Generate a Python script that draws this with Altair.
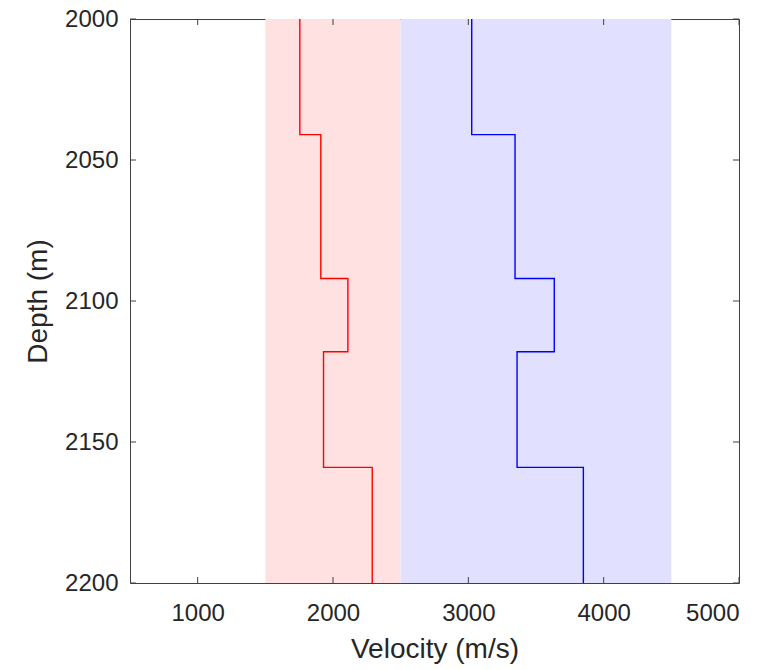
import altair as alt
import pandas as pd

# ---- data ----
depth_top = [2000, 2041, 2092, 2118, 2159]
depth_bottom = [2041, 2092, 2118, 2159, 2200]
vs = [1755, 1910, 2110, 1930, 2290]
vp = [3025, 3345, 3635, 3360, 3850]

band_name = ["vs", "vp"]
band_lo = [1500, 2500]
band_hi = [2500, 4500]
band_color = ["#ffe1e1", "#e1e1ff"]

x_ticks = [1000, 2000, 3000, 4000, 5000]
y_ticks = [2000, 2050, 2100, 2150, 2200]

W, H = 609, 564
FONT = "Liberation Sans"
TXT = "#262626"

xscale = alt.Scale(domain=[500, 5000], nice=False, zero=False)
yscale = alt.Scale(domain=[2000, 2200], reverse=True, nice=False, zero=False)

rows = []
for name, vals in (("vs", vs), ("vp", vp)):
    k = 0
    for v, t, b in zip(vals, depth_top, depth_bottom):
        rows.append({"series": name, "v": v, "d": t, "o": k}); k += 1
        rows.append({"series": name, "v": v, "d": b, "o": k}); k += 1
lines_df = pd.DataFrame(rows)

bands_df = pd.DataFrame({"series": band_name, "lo": band_lo, "hi": band_hi,
                         "d0": [2000, 2000], "d1": [2200, 2200]})

bands = alt.Chart(bands_df).mark_rect().encode(
    x=alt.X("lo:Q", scale=xscale,
            axis=alt.Axis(values=x_ticks, ticks=False, domain=False, grid=False,
                          labelFontSize=24, labelPadding=18, labelColor=TXT,
                          labelFont=FONT, title="Velocity (m/s)", titleFont=FONT,
                          titleFontSize=28, titleFontWeight="normal", titleColor=TXT,
                          titlePadding=10, format="d")),
    x2="hi:Q",
    y=alt.Y("d0:Q", scale=yscale,
            axis=alt.Axis(values=y_ticks, ticks=False, domain=False, grid=False,
                          labelFontSize=24, labelPadding=12, labelColor=TXT,
                          labelFont=FONT, title="Depth (m)", titleFont=FONT,
                          titleFontSize=28, titleFontWeight="normal", titleColor=TXT,
                          titlePadding=12, format="d")),
    y2="d1:Q",
    color=alt.Color("series:N", scale=alt.Scale(domain=band_name, range=band_color), legend=None),
)

lines = alt.Chart(lines_df).mark_line(strokeWidth=1.4).encode(
    x=alt.X("v:Q", scale=xscale),
    y=alt.Y("d:Q", scale=yscale),
    order="o:Q",
    detail="series:N",
    color=alt.Color("series:N", scale=alt.Scale(domain=["vs", "vp"], range=["#ff0000", "#0000ff"]), legend=None),
)

xt_df = pd.DataFrame({"t": x_ticks})
yt_df = pd.DataFrame({"t": y_ticks})
TICK = 6
tick_color = "#404040"
xt_bottom = alt.Chart(xt_df).mark_rule(color=tick_color, strokeWidth=1).encode(
    x=alt.X("t:Q", scale=xscale), y=alt.value(H), y2=alt.value(H - TICK))
xt_top = alt.Chart(xt_df).mark_rule(color=tick_color, strokeWidth=1).encode(
    x=alt.X("t:Q", scale=xscale), y=alt.value(0), y2=alt.value(TICK))
yt_left = alt.Chart(yt_df).mark_rule(color=tick_color, strokeWidth=1).encode(
    y=alt.Y("t:Q", scale=yscale), x=alt.value(0), x2=alt.value(TICK))
yt_right = alt.Chart(yt_df).mark_rule(color=tick_color, strokeWidth=1).encode(
    y=alt.Y("t:Q", scale=yscale), x=alt.value(W), x2=alt.value(W - TICK))

chart = alt.layer(bands, lines, xt_bottom, xt_top, yt_left, yt_right).resolve_scale(
    color="independent"
).properties(
    width=W, height=H,
    autosize=alt.AutoSizeParams(type="none"),
    padding={"left": 130, "top": 19, "right": 41, "bottom": 87},
    background="white",
).configure_view(stroke="#404040", strokeWidth=1)

chart.save("out.html", embed_options={"renderer": "svg", "actions": False})
